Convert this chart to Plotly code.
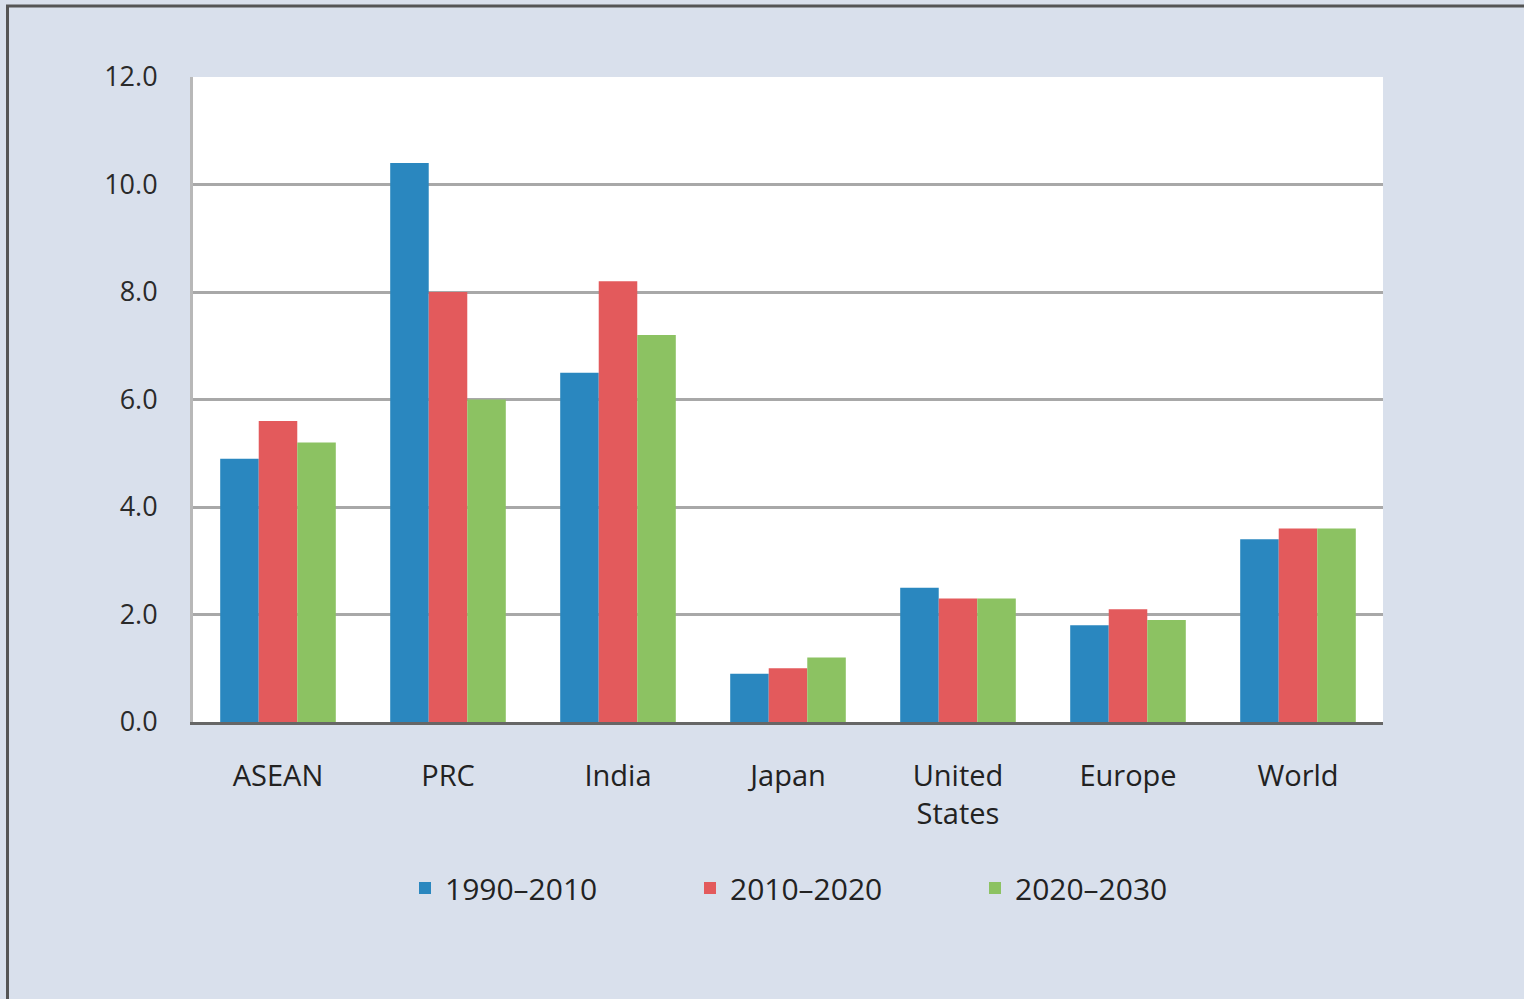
import plotly.graph_objects as go

# Average annual growth, percent
regions = ["ASEAN", "PRC", "India", "Japan", "United<br>States", "Europe", "World"]
period_1990_2010 = [4.9, 10.4, 6.5, 0.9, 2.5, 1.8, 3.4]
period_2010_2020 = [5.6, 8.0, 8.2, 1.0, 2.3, 2.1, 3.6]
period_2020_2030 = [5.2, 6.0, 7.2, 1.2, 2.3, 1.9, 3.6]

series_names = ["1990–2010", "2010–2020", "2020–2030"]
series_colors = ["#2a87bf", "#e35a5c", "#8cc262"]
y_ticks = [0, 2, 4, 6, 8, 10, 12]

W, H = 1524, 999
L, R, T, B = 193, 141, 77, 277

FONT = "Open Sans, sans-serif"

fig = go.Figure()
for name, vals, col in zip(series_names,
                           [period_1990_2010, period_2010_2020, period_2020_2030],
                           series_colors):
    fig.add_trace(go.Bar(x=regions, y=vals, name=name,
                         marker=dict(color=col, line=dict(width=0))))

def px_x(p):
    return (p - L) / (W - L - R)

def px_y(p):
    return (H - B - p) / (H - T - B)

# outer frame (left and top edges)
fig.add_shape(type="line", xref="paper", yref="paper",
              x0=px_x(7.5), x1=px_x(7.5), y0=px_y(999), y1=px_y(6),
              line=dict(color="#555555", width=3))
fig.add_shape(type="line", xref="paper", yref="paper",
              x0=px_x(6), x1=px_x(1524), y0=px_y(6), y1=px_y(6),
              line=dict(color="#555555", width=3))

fig.update_layout(
    width=W, height=H,
    margin=dict(l=L, r=R, t=T, b=B),
    paper_bgcolor="#d9e0ec",
    plot_bgcolor="#ffffff",
    barmode="group",
    bargap=0.32,
    bargroupgap=0,
    font=dict(family=FONT, color="#333333", size=26),
    showlegend=True,
    legend=dict(orientation="h", x=px_x(405), xanchor="left",
                y=px_y(888), yanchor="middle",
                font=dict(size=30, color="#222222"), itemwidth=30,
                entrywidth=240, entrywidthmode="pixels",
                traceorder="normal", bgcolor="rgba(0,0,0,0)"),
    xaxis=dict(showgrid=False, showline=True, linecolor="#666666", linewidth=3,
               ticks="", tickfont=dict(size=29, color="#222222"), ticklabelstandoff=26),
    yaxis=dict(range=[0, 12], tickvals=y_ticks,
               ticktext=[f"{v:.1f}" for v in y_ticks],
               showgrid=True, gridcolor="#a8a8a8", gridwidth=3,
               showline=True, linecolor="#b8b8b8", linewidth=3,
               zeroline=False, ticks="", ticklabelstandoff=27,
               tickfont=dict(size=27, color="#2a2a2a")),
)

fig.write_html("out.html")
